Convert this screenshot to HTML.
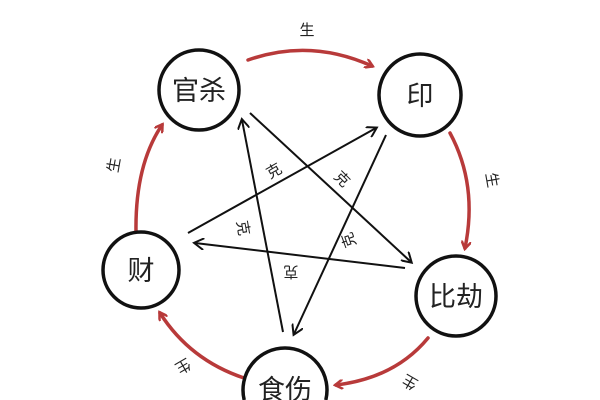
<!DOCTYPE html>
<html><head><meta charset="utf-8"><style>
html,body{margin:0;padding:0;background:#fff;width:600px;height:400px;overflow:hidden;}
svg{display:block;}
text{font-family:"Liberation Sans","Noto Sans CJK SC",sans-serif;fill:#222;}
</style></head><body>
<svg width="600" height="400" viewBox="0 0 600 400" style="overflow:hidden">
<defs>
<clipPath id="c"><rect x="0" y="0" width="600" height="400"/></clipPath>
<marker id="r" markerWidth="10" markerHeight="10" refX="7" refY="5" orient="auto" markerUnits="userSpaceOnUse"><path d="M0,0 L8,5 L0,10" fill="none" stroke="#b83a3a" stroke-width="2.5"/></marker>
<marker id="b" markerWidth="12" markerHeight="12" refX="9" refY="6" orient="auto" markerUnits="userSpaceOnUse"><path d="M0,0 L10,6 L0,12" fill="none" stroke="#111" stroke-width="2"/></marker>
</defs>
<g clip-path="url(#c)">
<g fill="none" stroke="#b83a3a" stroke-width="3.5" stroke-linecap="round">
<path d="M248,60 Q310,38 372,66" marker-end="url(#r)"/>
<path d="M450,133 Q478,185 465,248" marker-end="url(#r)"/>
<path d="M428,338 Q395,378 336,385" marker-end="url(#r)"/>
<path d="M244,378 Q190,360 160,313" marker-end="url(#r)"/>
<path d="M136,232 Q135,165 162,125" marker-end="url(#r)"/>
</g>
<g stroke="#111" stroke-width="2" fill="none">
<line x1="188" y1="233" x2="376" y2="128" marker-end="url(#b)"/>
<line x1="283" y1="332" x2="242" y2="120" marker-end="url(#b)"/>
<line x1="250" y1="113" x2="411" y2="262" marker-end="url(#b)"/>
<line x1="386" y1="135" x2="294" y2="334" marker-end="url(#b)"/>
<line x1="405" y1="268" x2="195" y2="243" marker-end="url(#b)"/>
</g>
<g fill="#fff" stroke="#111" stroke-width="3.5">
<circle cx="199" cy="90" r="40"/>
<circle cx="420" cy="95" r="41"/>
<circle cx="141" cy="270" r="38"/>
<circle cx="456" cy="296" r="40"/>
<path d="M244.2,400 A42,42 0 1 1 325.8,400"/>
</g>
<g font-size="27" text-anchor="middle">
<text x="199" y="100">官杀</text>
<text x="420" y="105">印</text>
<text x="141" y="280">财</text>
<text x="456" y="306">比劫</text>
<text x="285" y="399">食伤</text>
</g>
<g font-size="15" text-anchor="middle">
<text x="307" y="35">生</text>
<text transform="translate(492,180) rotate(80)" x="0" y="5">生</text>
<text transform="translate(410,382) rotate(-150)" x="0" y="5">生</text>
<text transform="translate(183,366) rotate(150)" x="0" y="5">生</text>
<text transform="translate(114,165) rotate(-80)" x="0" y="5">生</text>
<text transform="translate(274,171) rotate(-30)" x="0" y="5">克</text>
<text transform="translate(342,179) rotate(45)" x="0" y="5">克</text>
<text transform="translate(243,228) rotate(80)" x="0" y="5">克</text>
<text transform="translate(349,240) rotate(-110)" x="0" y="5">克</text>
<text transform="translate(291,272) rotate(180)" x="0" y="5">克</text>
</g>
</g>
</svg>
</body></html>
